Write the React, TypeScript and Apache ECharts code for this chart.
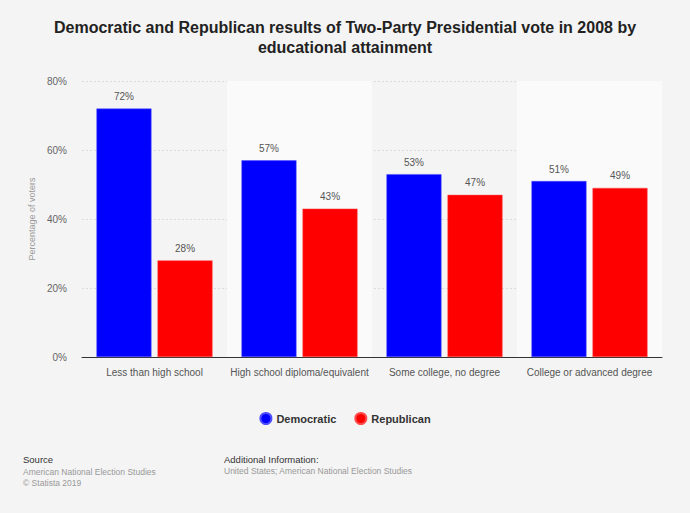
import React, { useEffect, useRef } from "react";
import * as echarts from "echarts";

const categories = [
  "Less than high school",
  "High school diploma/equivalent",
  "Some college, no degree",
  "College or advanced degree",
];
const democratic = [72, 57, 53, 51];
const republican = [28, 43, 47, 49];
const yTicks = [0, 20, 40, 60, 80];

const FONT = "'Liberation Sans', Arial, Helvetica, sans-serif";

export default function App() {
  const ref = useRef<HTMLDivElement>(null);

  useEffect(() => {
    document.body.style.margin = "0";
    const chart = echarts.init(ref.current!, null, { renderer: "svg" });
    const valueLabel = {
      show: true,
      position: "top",
      formatter: "{c}%",
      fontSize: 10,
      color: "#555",
      distance: 7,
      fontFamily: FONT,
    };
    chart.setOption({
      animation: false,
      backgroundColor: "#f4f4f4",
      textStyle: { fontFamily: FONT },
      title: {
        text: "Democratic and Republican results of Two-Party Presidential vote in 2008 by\neducational attainment",
        left: "center",
        top: 12,
        textStyle: {
          fontSize: 16,
          fontWeight: "bold",
          color: "#222",
          lineHeight: 20,
          fontFamily: FONT,
        },
      },
      legend: {
        data: ["Democratic", "Republican"],
        top: 407,
        left: "center",
        icon: "circle",
        itemWidth: 11,
        itemHeight: 11,
        itemGap: 18,
        textStyle: { fontSize: 11, fontWeight: "bold", color: "#333", fontFamily: FONT },
      },
      grid: { left: 82, right: 28, top: 81, bottom: 156, containLabel: false },
      xAxis: {
        type: "category",
        data: categories,
        axisLine: { lineStyle: { color: "#333", width: 1 } },
        axisTick: { show: false },
        axisLabel: { interval: 0, fontSize: 10, color: "#555", margin: 10, fontFamily: FONT },
        splitArea: {
          show: true,
          interval: 0,
          areaStyle: { color: ["rgba(0,0,0,0)", "#fafafa"] },
        },
      },
      yAxis: {
        type: "value",
        min: yTicks[0],
        max: yTicks[yTicks.length - 1],
        interval: 20,
        name: "Percentage of voters",
        nameLocation: "middle",
        nameGap: 38,
        nameTextStyle: { fontSize: 9, color: "#999", fontFamily: FONT },
        axisLine: { show: false },
        axisTick: { show: false },
        axisLabel: { formatter: "{value}%", fontSize: 10, color: "#666", margin: 15, fontFamily: FONT },
        splitLine: { lineStyle: { color: "#dcdcdc", type: [2, 2] } },
      },
      series: [
        {
          name: "Democratic",
          type: "bar",
          data: democratic,
          itemStyle: { color: "#0000ff", borderColor: "#4d4dff", borderWidth: 0.5 },
          barWidth: 55,
          barGap: "11%",
          label: valueLabel,
        },
        {
          name: "Republican",
          type: "bar",
          data: republican,
          itemStyle: { color: "#ff0000", borderColor: "#ff4d4d", borderWidth: 0.5 },
          barWidth: 55,
          label: valueLabel,
        },
      ],
      graphic: [
        {
          type: "text",
          left: 23,
          top: 454,
          style: { text: "Source", fontSize: 9.5, fill: "#333", fontFamily: FONT },
        },
        {
          type: "text",
          left: 23,
          top: 466,
          style: {
            text: "American National Election Studies\n© Statista 2019",
            fontSize: 8.5,
            lineHeight: 11,
            fill: "#999",
            fontFamily: FONT,
          },
        },
        {
          type: "text",
          left: 224,
          top: 454,
          style: { text: "Additional Information:", fontSize: 9.5, fill: "#333", fontFamily: FONT },
        },
        {
          type: "text",
          left: 224,
          top: 466,
          style: {
            text: "United States; American National Election Studies",
            fontSize: 8.5,
            fill: "#999",
            fontFamily: FONT,
          },
        },
      ],
    });
    return () => chart.dispose();
  }, []);

  return <div ref={ref} style={{ width: 690, height: 513 }} />;
}
